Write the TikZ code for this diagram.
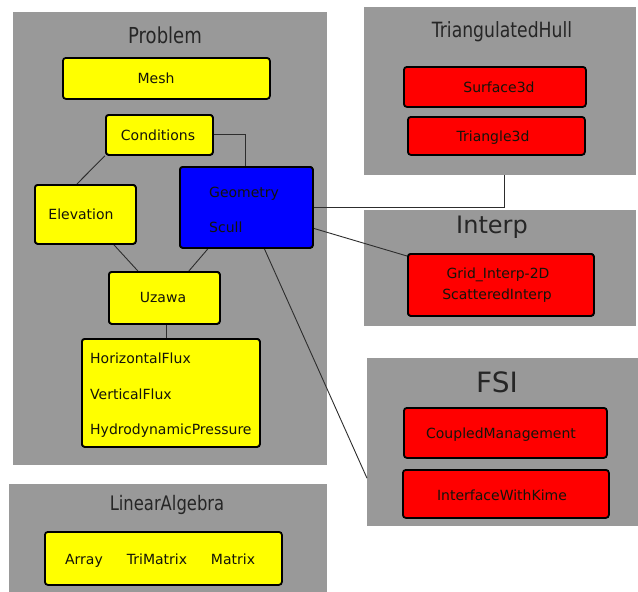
\documentclass[tikz,border=0pt]{standalone}
\usepackage{fontspec}
\setmainfont{DejaVu Sans}
\newfontfamily\condfont[FakeStretch=0.82]{DejaVu Sans}
\usetikzlibrary{calc}
\definecolor{panelgray}{RGB}{153,153,153}
\definecolor{txt}{RGB}{20,20,10}
\definecolor{linec}{RGB}{45,45,45}
\definecolor{yel}{RGB}{255,255,0}
\definecolor{rd}{RGB}{255,0,0}
\definecolor{bl}{RGB}{0,0,255}
\tikzset{
  panel/.style={fill=panelgray, draw=none, inner sep=0pt, anchor=north west},
  ybox/.style={fill=yel, draw=black, line width=1.8pt, rounded corners=3pt, inner sep=0pt, anchor=north west},
  rbox/.style={fill=rd, draw=black, line width=1.8pt, rounded corners=3pt, inner sep=0pt, anchor=north west},
  bbox/.style={fill=bl, draw=black, line width=1.8pt, rounded corners=3pt, inner sep=0pt, anchor=north west},
  lbl/.style={font=\fontsize{14}{16}\selectfont, text=txt, inner sep=0pt, text height=10.2pt, text depth=0pt},
  ttl/.style={inner sep=0pt, text=black!85},
  conn/.style={draw=linec, line width=0.9pt},
}
\newcommand{\pbox}[6]{% name, style, x1, y1, x2, y2
  \node[#2, minimum width={(#5-#3)*1pt}, minimum height={(#6-#4)*1pt}] (#1) at (#3,#4) {};}
\begin{document}
\begin{tikzpicture}[x=1pt,y=-1pt]
\useasboundingbox (0,0) rectangle (638,592);
% panels
\pbox{problem}{panel}{13}{12}{327}{465}
\pbox{hull}{panel}{364}{7}{636}{175}
\pbox{interp}{panel}{364}{210}{636}{326}
\pbox{fsi}{panel}{367}{358}{638}{526}
\pbox{linalg}{panel}{9}{484}{327}{592}
% titles
\node[ttl] (tproblem) at (165,35) {\condfont\fontsize{22}{24}\selectfont Problem};
\node[ttl] (thull) at (502,32) {\condfont\fontsize{21}{24}\selectfont TriangulatedHull};
\node[ttl] (tinterp) at (492,227) {\fontsize{24}{26}\selectfont Interp};
\node[ttl] (tfsi) at (497,382) {\fontsize{28}{30}\selectfont FSI};
\node[ttl] (tlinalg) at (167,505) {\condfont\fontsize{20}{22}\selectfont LinearAlgebra};
% boxes
\pbox{mesh}{ybox}{62}{57}{269}{98}
\pbox{cond}{ybox}{105}{114}{212}{154}
\pbox{elev}{ybox}{34}{184}{135}{243}
\pbox{geo}{bbox}{179}{166}{312}{247}
\pbox{uzawa}{ybox}{108}{271}{219}{323}
\pbox{flux}{ybox}{81}{338}{259}{446}
\pbox{arr}{ybox}{44}{531}{281}{584}
\pbox{surf}{rbox}{403}{66}{585}{106}
\pbox{tri}{rbox}{407}{116}{584}{154}
\pbox{grid}{rbox}{407}{253}{593}{315}
\pbox{coup}{rbox}{403}{407}{606}{457}
\pbox{iface}{rbox}{402}{469}{608}{517}
% connectors
\coordinate (geotop) at (245,166);
\draw[conn] (cond.east) -| (geotop);
\draw[conn] (cond.south west) -- ($(elev.north)+(-8.5,0)$);
\draw[conn] ($(elev.south)+(28.5,0)$) -- ($(uzawa.north)+(-26.5,0)$);
\draw[conn] ($(geo.south)+(-38.5,0)$) -- ($(uzawa.north)+(24.5,0)$);
\draw[conn] ($(uzawa.south)+(2.5,0)$) -- ($(flux.north)+(-4,0)$);
\coordinate (hullbot) at (504,175);
\draw[conn] (geo.east) -| (hullbot);
\draw[conn] ($(geo.east)+(0,21)$) -- ($(grid.north west)+(0,3)$);
\draw[conn] ($(geo.south)+(18,0)$) -- ($(fsi.west)+(0,36)$);
% redraw boxes on top of connector ends
\pbox{cond2}{ybox}{105}{114}{212}{154}
\pbox{elev2}{ybox}{34}{184}{135}{243}
\pbox{geo2}{bbox}{179}{166}{312}{247}
\pbox{uzawa2}{ybox}{108}{271}{219}{323}
\pbox{flux2}{ybox}{81}{338}{259}{446}
\pbox{grid2}{rbox}{407}{253}{593}{315}
% labels
\node[lbl] (lmesh) at (156,78) {Mesh};
\node[lbl] (lcond) at (158,135) {Conditions};
\node[lbl] (lelev) at (81,214) {Elevation};
\node[lbl, anchor=west] (lgeo) at (209,192) {Geometry};
\node[lbl, anchor=west] (lscull) at (209,227) {Scull};
\node[lbl] (luz) at (163,297) {Uzawa};
\node[lbl, anchor=west] (lh) at (90,358) {HorizontalFlux};
\node[lbl, anchor=west] (lv) at (90,394) {VerticalFlux};
\node[lbl, anchor=west] (lp) at (90,429) {HydrodynamicPressure};
\node[lbl] (larr) at (84,559) {Array};
\node[lbl] (ltri) at (157,559) {TriMatrix};
\node[lbl] (lmat) at (233,559) {Matrix};
\node[lbl] (lsurf) at (499,87) {Surface3d};
\node[lbl] (ltri3) at (493,136) {Triangle3d};
\node[lbl] (lgrid) at (498,273) {Grid\_Interp-2D};
\node[lbl] (lscat) at (497,294) {ScatteredInterp};
\node[lbl] (lcoup) at (501,433) {CoupledManagement};
\node[lbl] (lif) at (502,495) {InterfaceWithKime};
\end{tikzpicture}
\end{document}
